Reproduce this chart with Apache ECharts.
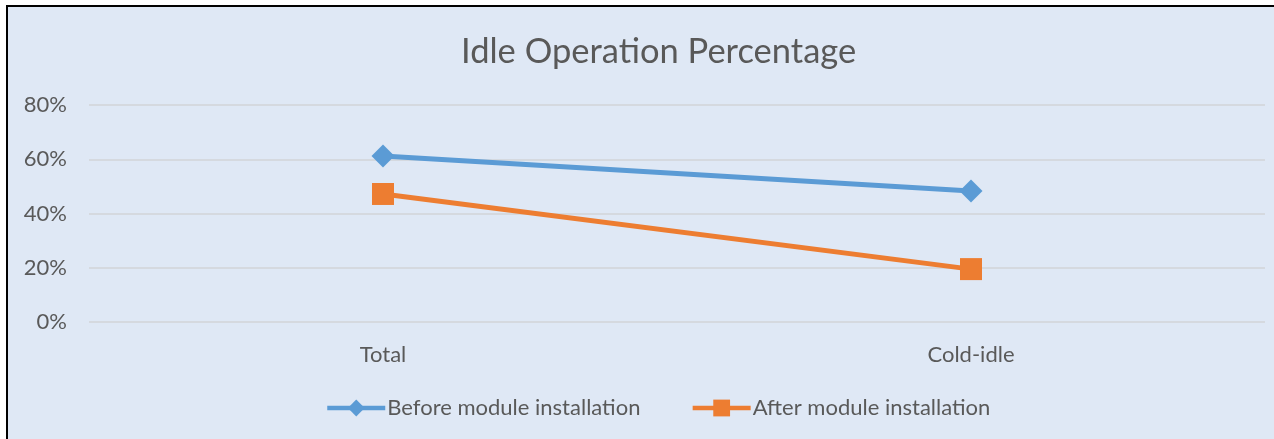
<!DOCTYPE html>
<html>
<head>
<meta charset="utf-8">
<script src="https://cdn.jsdelivr.net/npm/echarts@6/dist/echarts.min.js"></script>
<style>
  html, body { margin: 0; padding: 0; background: #fff; overflow: hidden; }
  #frame {
    position: absolute; left: 6px; top: 5px; width: 1320px; height: 480px;
    border-top: 2px solid #000; border-left: 2px solid #000; background: #DFE8F5;
  }
  #chart { position: absolute; left: 0; top: 0; width: 1274px; height: 439px; }
</style>
</head>
<body>
<div id="frame"></div>
<div id="chart"></div>
<script>
// data
const categories = ['Total', 'Cold-idle'];
const beforeValues = [61.2, 48.3];
const afterValues = [47.2, 19.5];
const yTicks = [0, 20, 40, 60, 80];

const FONT = 'Lato, "Open Sans", sans-serif';
const TEXT = '#595959';

const chart = echarts.init(document.getElementById('chart'));

chart.setOption({
  backgroundColor: 'transparent',
  animation: false,
  title: {
    text: 'Idle Operation Percentage',
    left: 456,
    top: 29,
    textStyle: { fontFamily: FONT, fontSize: 34.5, fontWeight: 'normal', color: TEXT }
  },
  legend: {
    bottom: 15,
    left: 320,
    itemWidth: 58,
    itemHeight: 21,
    itemGap: 50,
    lineStyle: { width: 4.5 },
    textStyle: { fontFamily: FONT, fontSize: 22, color: TEXT, padding: [0, 0, 0, -3] },
    data: ['Before module installation', 'After module installation']
  },
  grid: { left: 89, right: 9, top: 105, height: 217, containLabel: false },
  xAxis: {
    type: 'category',
    data: categories,
    boundaryGap: true,
    axisLine: { show: false },
    axisTick: { show: false },
    axisLabel: { fontFamily: FONT, fontSize: 22, color: TEXT, margin: 22 }
  },
  yAxis: {
    type: 'value',
    min: yTicks[0],
    max: yTicks[yTicks.length - 1],
    interval: 20,
    axisLine: { show: false },
    axisTick: { show: false },
    splitLine: { lineStyle: { color: '#D5D9DF', width: 2 } },
    axisLabel: {
      fontFamily: FONT, fontSize: 22, color: TEXT, margin: 22,
      formatter: v => v + '%'
    }
  },
  series: [
    {
      name: 'Before module installation',
      type: 'line',
      data: beforeValues,
      symbol: 'diamond',
      symbolSize: 23,
      color: '#5B9BD5',
      lineStyle: { width: 5, color: '#5B9BD5' },
      itemStyle: { color: '#5B9BD5' }
    },
    {
      name: 'After module installation',
      type: 'line',
      data: afterValues,
      symbol: 'rect',
      symbolSize: 22,
      color: '#ED7D31',
      lineStyle: { width: 5, color: '#ED7D31' },
      itemStyle: { color: '#ED7D31' }
    }
  ]
});
</script>
</body>
</html>
